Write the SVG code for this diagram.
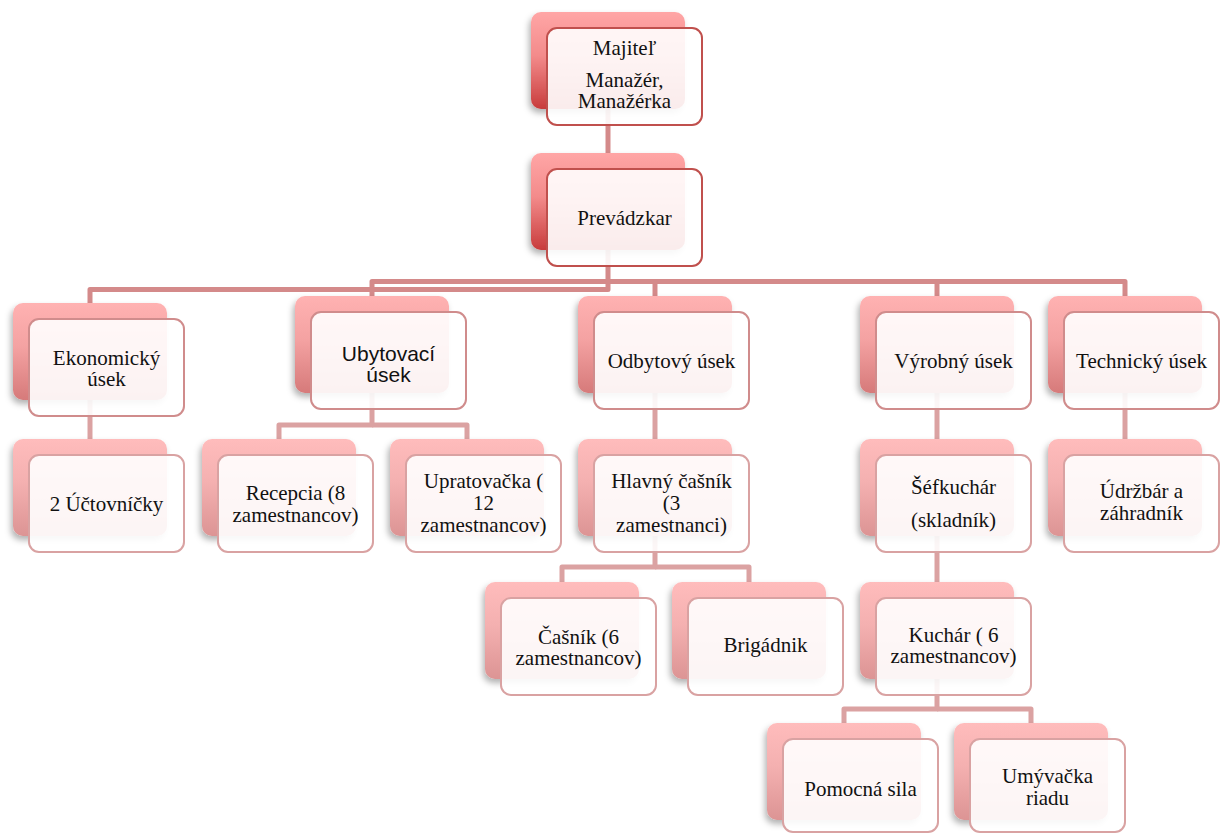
<svg xmlns="http://www.w3.org/2000/svg" width="1229" height="834" viewBox="0 0 1229 834">
  <defs>
    <!-- back plate gradients, one per depth -->
    <linearGradient id="g0" x1="0" y1="0" x2="0" y2="1">
      <stop offset="0" stop-color="#ffa6a6"/>
      <stop offset="0.45" stop-color="#f38b8b"/>
      <stop offset="1" stop-color="#c83c3c"/>
    </linearGradient>
    <linearGradient id="g1" x1="0" y1="0" x2="0" y2="1">
      <stop offset="0" stop-color="#ffb2b2"/>
      <stop offset="0.45" stop-color="#f4a2a2"/>
      <stop offset="1" stop-color="#d67a7a"/>
    </linearGradient>
    <linearGradient id="g2" x1="0" y1="0" x2="0" y2="1">
      <stop offset="0" stop-color="#ffbcbc"/>
      <stop offset="0.45" stop-color="#f4b0b0"/>
      <stop offset="1" stop-color="#dc9494"/>
    </linearGradient>
    <filter id="shadow" x="-20%" y="-20%" width="140%" height="150%">
      <feDropShadow dx="-2" dy="4" stdDeviation="3" flood-color="#000" flood-opacity="0.3"/>
    </filter>
  </defs>
  <style>
    .back { filter: url(#shadow); }
    .b0 { fill: url(#g0); }
    .b1 { fill: url(#g1); }
    .b2 { fill: url(#g2); }
    .front { fill: #ffffff; fill-opacity: 0.9; stroke-width: 2; }
    .f0 { stroke: #c0504d; }
    .f1 { stroke: #d08c8c; }
    .f2 { stroke: #d9a2a2; }
    .conn { fill: none; stroke-width: 5; stroke-linejoin: round; stroke-linecap: butt; }
    .c1 { stroke: #d48a8a; }
    .c2 { stroke: #dba2a2; }
    text { font-family: 'Liberation Serif', 'DejaVu Serif', serif; font-size: 21px; fill: #111; text-anchor: middle; }
    text.sans { font-family: 'Liberation Sans', 'DejaVu Sans', sans-serif; }
  </style>

  <rect width="1229" height="834" fill="#ffffff"/>

  <!-- connectors -->
  <g id="connectors">
    <path class="conn c1" d="M608,100 V160"/>
    <path class="conn c1" d="M608,250 V289.5 H90 V310"/>
    <path class="conn c1" d="M372,300 V281.5 H1125 V300"/>
    <path class="conn c1" d="M655,281.5 V300"/>
    <path class="conn c1" d="M937,281.5 V300"/>
    <path class="conn c2" d="M90,395 V445"/>
    <path class="conn c2" d="M372,390 V425 H279 V445"/>
    <path class="conn c2" d="M372,425 H467 V445"/>
    <path class="conn c2" d="M655,390 V445"/>
    <path class="conn c2" d="M937,390 V445"/>
    <path class="conn c2" d="M1125,390 V445"/>
    <path class="conn c2" d="M655,530 V567 H562 V588"/>
    <path class="conn c2" d="M655,567 H749 V588"/>
    <path class="conn c2" d="M937,530 V588"/>
    <path class="conn c2" d="M937,675 V709 H844 V728"/>
    <path class="conn c2" d="M937,709 H1031 V728"/>
  </g>

  <g id="majitel">
    <rect class="back b0" x="531" y="12" width="154" height="97" rx="10"/>
    <rect class="front f0" x="547" y="28" width="155" height="97" rx="10"/>
    <text x="624.5" y="55">Majiteľ<tspan x="624.5" dy="32">Manažér,</tspan><tspan x="624.5" dy="21">Manažérka</tspan></text>
  </g>

  <g id="prevadzkar">
    <rect class="back b0" x="531" y="153" width="154" height="97" rx="10"/>
    <rect class="front f0" x="547" y="169" width="155" height="97" rx="10"/>
    <text x="624.5" y="225">Prevádzkar</text>
  </g>

  <g id="ekonomicky">
    <rect class="back b1" x="13" y="303" width="154" height="97" rx="10"/>
    <rect class="front f1" x="29" y="319" width="155" height="97" rx="10"/>
    <text x="106.5" y="365">Ekonomický<tspan x="106.5" dy="21">úsek</tspan></text>
  </g>

  <g id="ubytovaci">
    <rect class="back b1" x="295" y="296" width="154" height="97" rx="10"/>
    <rect class="front f1" x="311" y="312" width="155" height="97" rx="10"/>
    <text class="sans" x="388.5" y="361">Ubytovací<tspan x="388.5" dy="21">úsek</tspan></text>
  </g>

  <g id="odbytovy">
    <rect class="back b1" x="578" y="296" width="154" height="97" rx="10"/>
    <rect class="front f1" x="594" y="312" width="155" height="97" rx="10"/>
    <text x="671.5" y="368">Odbytový úsek</text>
  </g>

  <g id="vyrobny">
    <rect class="back b1" x="860" y="296" width="154" height="97" rx="10"/>
    <rect class="front f1" x="876" y="312" width="155" height="97" rx="10"/>
    <text x="953.5" y="368">Výrobný úsek</text>
  </g>

  <g id="technicky">
    <rect class="back b1" x="1048" y="296" width="154" height="97" rx="10"/>
    <rect class="front f1" x="1064" y="312" width="155" height="97" rx="10"/>
    <text x="1141.5" y="368">Technický úsek</text>
  </g>

  <g id="uctovnicky">
    <rect class="back b2" x="13" y="439" width="154" height="97" rx="10"/>
    <rect class="front f2" x="29" y="455" width="155" height="97" rx="10"/>
    <text x="106.5" y="511">2 Účtovníčky</text>
  </g>

  <g id="recepcia">
    <rect class="back b2" x="202" y="439" width="154" height="97" rx="10"/>
    <rect class="front f2" x="218" y="455" width="155" height="97" rx="10"/>
    <text x="295.5" y="500">Recepcia (8<tspan x="295.5" dy="22">zamestnancov)</tspan></text>
  </g>

  <g id="upratovacka">
    <rect class="back b2" x="390" y="439" width="154" height="97" rx="10"/>
    <rect class="front f2" x="406" y="455" width="155" height="97" rx="10"/>
    <text x="483.5" y="488">Upratovačka (<tspan x="483.5" dy="22">12</tspan><tspan x="483.5" dy="22">zamestnancov)</tspan></text>
  </g>

  <g id="hlavny-casnik">
    <rect class="back b2" x="578" y="439" width="154" height="97" rx="10"/>
    <rect class="front f2" x="594" y="455" width="155" height="97" rx="10"/>
    <text x="671.5" y="488">Hlavný čašník<tspan x="671.5" dy="22">(3</tspan><tspan x="671.5" dy="22">zamestnanci)</tspan></text>
  </g>

  <g id="sefkuchar">
    <rect class="back b2" x="860" y="439" width="154" height="97" rx="10"/>
    <rect class="front f2" x="876" y="455" width="155" height="97" rx="10"/>
    <text x="953.5" y="494">Šéfkuchár<tspan x="953.5" dy="33">(skladník)</tspan></text>
  </g>

  <g id="udrzbar">
    <rect class="back b2" x="1048" y="439" width="154" height="97" rx="10"/>
    <rect class="front f2" x="1064" y="455" width="155" height="97" rx="10"/>
    <text x="1141.5" y="498">Údržbár a<tspan x="1141.5" dy="22">záhradník</tspan></text>
  </g>

  <g id="casnik">
    <rect class="back b2" x="485" y="582" width="154" height="97" rx="10"/>
    <rect class="front f2" x="501" y="598" width="155" height="97" rx="10"/>
    <text x="578.5" y="644">Čašník (6<tspan x="578.5" dy="21">zamestnancov)</tspan></text>
  </g>

  <g id="brigadnik">
    <rect class="back b2" x="672" y="582" width="154" height="97" rx="10"/>
    <rect class="front f2" x="688" y="598" width="155" height="97" rx="10"/>
    <text x="765.5" y="652">Brigádnik</text>
  </g>

  <g id="kuchar">
    <rect class="back b2" x="860" y="582" width="154" height="97" rx="10"/>
    <rect class="front f2" x="876" y="598" width="155" height="97" rx="10"/>
    <text x="953.5" y="642">Kuchár ( 6<tspan x="953.5" dy="21">zamestnancov)</tspan></text>
  </g>

  <g id="pomocna-sila">
    <rect class="back b2" x="767" y="723" width="154" height="97" rx="10"/>
    <rect class="front f2" x="783" y="739" width="155" height="93" rx="10"/>
    <text x="860.5" y="796">Pomocná sila</text>
  </g>

  <g id="umyvacka">
    <rect class="back b2" x="954" y="723" width="154" height="97" rx="10"/>
    <rect class="front f2" x="970" y="739" width="155" height="93" rx="10"/>
    <text x="1047.5" y="783">Umývačka<tspan x="1047.5" dy="22">riadu</tspan></text>
  </g>
</svg>
